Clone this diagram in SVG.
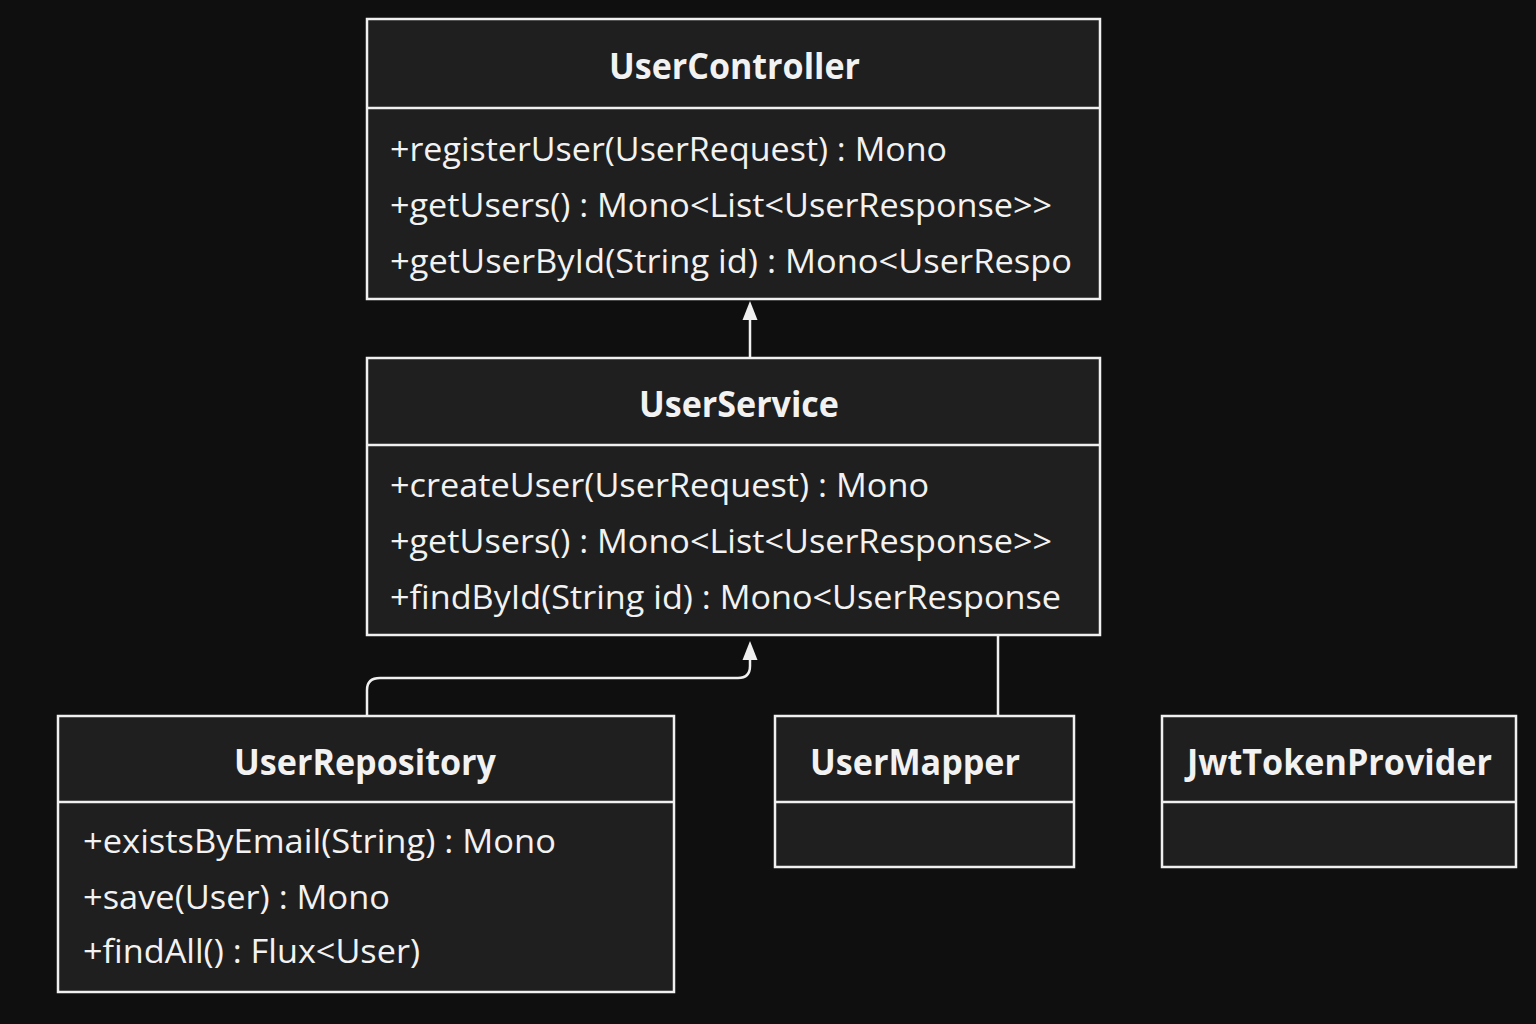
<svg xmlns="http://www.w3.org/2000/svg" width="1536" height="1024" viewBox="0 0 1536 1024">
<defs>
<style>
.box{fill:#1f1f1f;stroke:#f0f0f0;stroke-width:2.5}
.div{stroke:#f0f0f0;stroke-width:2.5}
.t{font-family:"Open Sans","Noto Sans","Liberation Sans",sans-serif;fill:#f2f2f2}
.title{font-size:36px;font-weight:bold}
.m{font-size:32px}
.conn{fill:none;stroke:#f0f0f0;stroke-width:2.5}
.head{fill:#f0f0f0}
</style>
</defs>
<rect width="1536" height="1024" fill="#0f0f0f"/>
<g id="connectors">
<path class="conn" d="M750 358 V318"/>
<path class="head" d="M750 301 L757.5 320 L742.5 320 Z"/>
<path class="conn" d="M367 716 V690 Q367 678 380 678 H738 Q750 678 750 666 V658"/>
<path class="head" d="M750 641 L757.5 660 L742.5 660 Z"/>
<path class="conn" d="M998 635 V716"/>
</g>
<g id="UserController">
<rect class="box" x="367" y="19" width="733" height="280"/>
<line class="div" x1="367" y1="108" x2="1100" y2="108"/>
<text class="t title" x="609" y="79" textLength="251" lengthAdjust="spacingAndGlyphs">UserController</text>
<text class="t m" x="390" y="161" textLength="557" lengthAdjust="spacingAndGlyphs">+registerUser(UserRequest) : Mono</text>
<text class="t m" x="390" y="217" textLength="662" lengthAdjust="spacingAndGlyphs">+getUsers() : Mono&lt;List&lt;UserResponse&gt;&gt;</text>
<text class="t m" x="390" y="273" textLength="682" lengthAdjust="spacingAndGlyphs">+getUserById(String id) : Mono&lt;UserRespo</text>
</g>
<g id="UserService">
<rect class="box" x="367" y="358" width="733" height="277"/>
<line class="div" x1="367" y1="445" x2="1100" y2="445"/>
<text class="t title" x="639" y="417" textLength="200" lengthAdjust="spacingAndGlyphs">UserService</text>
<text class="t m" x="390" y="497" textLength="539" lengthAdjust="spacingAndGlyphs">+createUser(UserRequest) : Mono</text>
<text class="t m" x="390" y="553" textLength="662" lengthAdjust="spacingAndGlyphs">+getUsers() : Mono&lt;List&lt;UserResponse&gt;&gt;</text>
<text class="t m" x="390" y="609" textLength="671" lengthAdjust="spacingAndGlyphs">+findById(String id) : Mono&lt;UserResponse</text>
</g>
<g id="UserRepository">
<rect class="box" x="58" y="716" width="616" height="276"/>
<line class="div" x1="58" y1="802" x2="674" y2="802"/>
<text class="t title" x="234" y="775" textLength="262" lengthAdjust="spacingAndGlyphs">UserRepository</text>
<text class="t m" x="83" y="853" textLength="473" lengthAdjust="spacingAndGlyphs">+existsByEmail(String) : Mono</text>
<text class="t m" x="83" y="909" textLength="307" lengthAdjust="spacingAndGlyphs">+save(User) : Mono</text>
<text class="t m" x="83" y="963" textLength="337" lengthAdjust="spacingAndGlyphs">+findAll() : Flux&lt;User)</text>
</g>
<g id="UserMapper">
<rect class="box" x="775" y="716" width="299" height="151"/>
<line class="div" x1="775" y1="802" x2="1074" y2="802"/>
<text class="t title" x="810" y="775" textLength="210" lengthAdjust="spacingAndGlyphs">UserMapper</text>
</g>
<g id="JwtTokenProvider">
<rect class="box" x="1162" y="716" width="354" height="151"/>
<line class="div" x1="1162" y1="802" x2="1516" y2="802"/>
<text class="t title" x="1187" y="775" textLength="305" lengthAdjust="spacingAndGlyphs">JwtTokenProvider</text>
</g>
</svg>
